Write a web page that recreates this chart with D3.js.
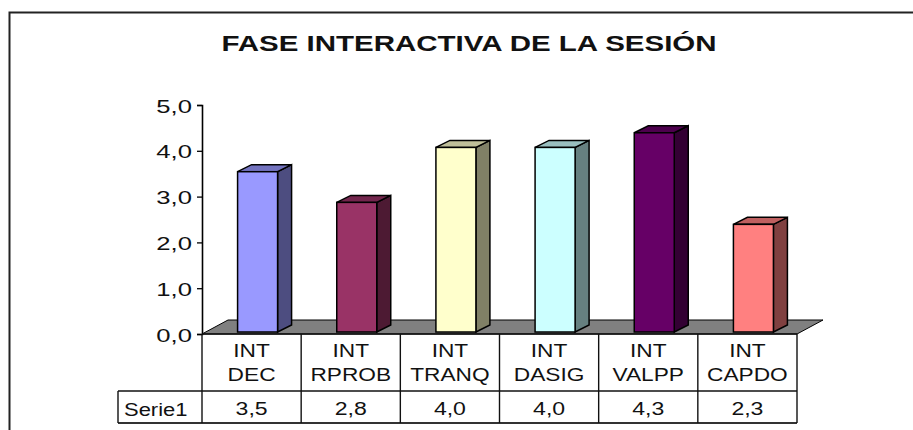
<!DOCTYPE html>
<html>
<head>
<meta charset="utf-8">
<script src="https://cdn.jsdelivr.net/npm/d3@7"></script>
<style>
  html, body { margin: 0; background: #fff; }
  text { font-family: "Liberation Sans", Arial, sans-serif; fill: #111; }
</style>
</head>
<body>
<svg id="chart" width="913" height="430"></svg>
<script>
const categories = [["INT", "DEC"], ["INT", "RPROB"], ["INT", "TRANQ"], ["INT", "DASIG"], ["INT", "VALPP"], ["INT", "CAPDO"]];
const values = [3.5, 2.83, 4.03, 4.03, 4.35, 2.35];
const valueLabels = ["3,5", "2,8", "4,0", "4,0", "4,3", "2,3"];
const barColors = ["#9999ff", "#993366", "#ffffcc", "#ccffff", "#660066", "#ff8080"];
const yTicks = [0, 1, 2, 3, 4, 5];
const seriesName = "Serie1";
const title = "FASE INTERACTIVA DE LA SESIÓN";

const svg = d3.select("#chart");

const x0 = 202, x1 = 797, y0 = 334, y5 = 105;
const depthX = 14, depthY = 7;
const floorX = 26, floorY = 14;
const rowCat = 391, rowVal = 423, rowLeft = 118;

const X = d3.scaleBand().domain(d3.range(categories.length)).range([x0, x1]);
const Y = d3.scaleLinear().domain([0, 5]).range([y0, y5]);
const barW = 40;

// the original type is wide, so stretch the glyphs horizontally
function stretch(sel, ratio) {
    sel.each(function () {
        const len = this.getComputedTextLength();
        d3.select(this)
            .attr("textLength", len * ratio)
            .attr("lengthAdjust", "spacingAndGlyphs");
    });
}

function shade(color, f) {
    const c = d3.rgb(color);
    return d3.rgb(c.r * f, c.g * f, c.b * f).formatHex();
}

// chart frame, open at the bottom and on the right
svg.append("path")
    .attr("d", "M9.5,430V12.5H913")
    .attr("fill", "none")
    .attr("stroke", "#222")
    .attr("stroke-width", 2);

svg.append("text")
    .attr("x", 469)
    .attr("y", 51)
    .attr("text-anchor", "middle")
    .attr("font-size", 22)
    .attr("font-weight", "bold")
    .attr("fill", "#000")
    .text(title)
    .call(stretch, 1.34);

// floor of the 3d plot
svg.append("path")
    .attr("d", `M${x0},${y0}L${x0 + floorX},${y0 - floorY}H${x1 + floorX}L${x1},${y0}Z`)
    .attr("fill", "#808080")
    .attr("stroke", "#000");

// y axis
const yAxis = d3.axisLeft(Y)
    .tickValues(yTicks)
    .tickSize(5)
    .tickPadding(5)
    .tickFormat(d => d3.format(".1f")(d).replace(".", ","));
const yG = svg.append("g").attr("transform", `translate(${x0},0)`).call(yAxis);
yG.selectAll("line").attr("stroke", "#000").attr("stroke-width", 1.3);
yG.select(".domain").attr("stroke", "#000").attr("stroke-width", 1.6);
yG.selectAll("text")
    .attr("font-size", 19)
    .attr("font-family", '"Liberation Sans", Arial, sans-serif')
    .attr("y", 1)
    .call(stretch, 1.35);

// bars: front, top and side faces
const bars = svg.selectAll("g.bar")
    .data(values)
    .enter()
    .append("g")
    .attr("class", "bar");

function barLeft(i) {
    return X(i) + (X.bandwidth() - barW) / 2 + 6;
}

bars.append("path")
    .attr("d", (d, i) => {
        const l = barLeft(i) + barW, t = Y(d) - 2, b = y0 - 2;
        return `M${l},${t}l${depthX},${-depthY}V${b - depthY}l${-depthX},${depthY}Z`;
    })
    .attr("fill", (d, i) => shade(barColors[i], 0.5))
    .attr("stroke", "#000")
    .attr("stroke-width", 1.5);

bars.append("path")
    .attr("d", (d, i) => {
        const l = barLeft(i), t = Y(d) - 2;
        return `M${l},${t}l${depthX},${-depthY}h${barW}l${-depthX},${depthY}Z`;
    })
    .attr("fill", (d, i) => shade(barColors[i], 0.75))
    .attr("stroke", "#000")
    .attr("stroke-width", 1.5);

bars.append("rect")
    .attr("x", (d, i) => barLeft(i))
    .attr("y", d => Y(d) - 2)
    .attr("width", barW)
    .attr("height", d => y0 - Y(d))
    .attr("fill", (d, i) => barColors[i])
    .attr("stroke", "#000")
    .attr("stroke-width", 1.5);

// data table under the plot
const table = svg.append("g").attr("stroke", "#111").attr("stroke-width", 1.4);
table.append("line").attr("x1", x0).attr("x2", x1).attr("y1", y0).attr("y2", y0);
table.append("line").attr("x1", rowLeft).attr("x2", x1).attr("y1", rowCat).attr("y2", rowCat);
table.append("line").attr("x1", rowLeft).attr("x2", x1).attr("y1", rowVal).attr("y2", rowVal)
    .attr("stroke", "#333").attr("stroke-width", 2);
table.append("line").attr("x1", rowLeft).attr("x2", rowLeft).attr("y1", rowCat).attr("y2", rowVal);
table.selectAll("line.col")
    .data(d3.range(categories.length + 1))
    .enter()
    .append("line")
    .attr("class", "col")
    .attr("x1", i => x0 + i * X.step())
    .attr("x2", i => x0 + i * X.step())
    .attr("y1", y0)
    .attr("y2", rowVal);

[0, 1].forEach(line => {
    svg.selectAll(`text.cat${line}`)
        .data(categories)
        .enter()
        .append("text")
        .attr("class", `cat${line}`)
        .attr("x", (d, i) => X(i) + X.bandwidth() / 2)
        .attr("y", line === 0 ? 357 : 381)
        .attr("text-anchor", "middle")
        .attr("font-size", 18)
        .text(d => d[line])
        .call(stretch, 1.26);
});

svg.selectAll("text.val")
    .data(valueLabels)
    .enter()
    .append("text")
    .attr("class", "val")
    .attr("x", (d, i) => X(i) + X.bandwidth() / 2)
    .attr("y", 415)
    .attr("text-anchor", "middle")
    .attr("font-size", 18)
    .text(d => d)
    .call(stretch, 1.28);

svg.append("text")
    .attr("x", 124)
    .attr("y", 416)
    .attr("font-size", 18)
    .text(seriesName)
    .call(stretch, 1.22);
</script>
</body>
</html>
